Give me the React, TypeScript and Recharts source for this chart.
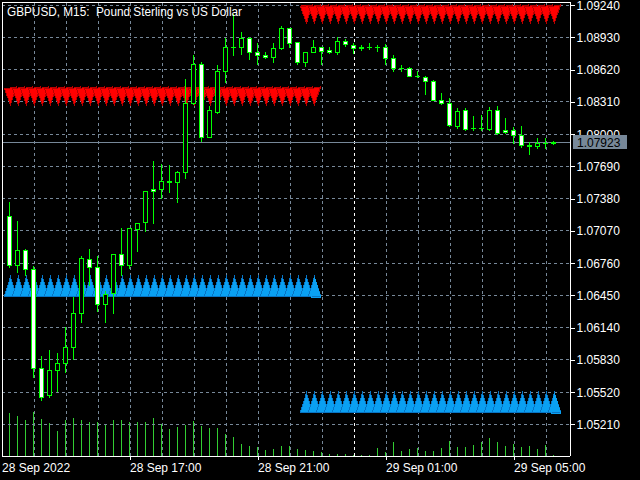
import React from "react";
import { ComposedChart, Bar, Scatter, XAxis, YAxis, ReferenceLine } from "recharts";

// GBPUSD M15, one bar every 15 minutes from 28 Sep 2022 13:15
const opens = [
  1.0721, 1.06739, 1.06883, 1.067, 1.05749, 1.05489, 1.0573, 1.05797, 1.05951, 1.06277,
  1.06796, 1.06719, 1.06364, 1.06472, 1.06844, 1.06739, 1.07085, 1.07152, 1.07469, 1.07469,
  1.07542, 1.07536, 1.07632, 1.08295, 1.08673, 1.07974, 1.08215, 1.08606, 1.08834, 1.08834,
  1.0892, 1.08786, 1.0876, 1.08737, 1.08824, 1.09016, 1.08882, 1.08695, 1.08786, 1.08834,
  1.08808, 1.08786, 1.08894, 1.08856, 1.08832, 1.08837, 1.08832, 1.08834, 1.08728, 1.08633,
  1.08632, 1.08558, 1.08551, 1.0851, 1.08327, 1.08301, 1.08077, 1.08231, 1.08056, 1.08054,
  1.08046, 1.08231, 1.08039, 1.08039, 1.07991, 1.07888, 1.07888, 1.07915, 1.07911,
];
const highs = [
  1.07347, 1.07164, 1.06895, 1.06732, 1.0587, 1.05925, 1.05896, 1.06149, 1.06431, 1.06828,
  1.06892, 1.06831, 1.06492, 1.06847, 1.07094, 1.07097, 1.07148, 1.07453, 1.07741, 1.07709,
  1.07702, 1.07648, 1.08529, 1.0876, 1.08695, 1.08269, 1.08663, 1.08926, 1.09154, 1.08978,
  1.08933, 1.08872, 1.08791, 1.08878, 1.09038, 1.09019, 1.08885, 1.08791, 1.08904, 1.08838,
  1.08834, 1.08935, 1.0891, 1.08878, 1.08856, 1.08878, 1.08856, 1.08862, 1.0876, 1.08663,
  1.08647, 1.08609, 1.08555, 1.08519, 1.08392, 1.08349, 1.08247, 1.08247, 1.08176, 1.08183,
  1.08257, 1.08269, 1.08151, 1.0807, 1.08077, 1.07922, 1.07959, 1.07965, 1.07931,
];
const lows = [
  1.06722, 1.06674, 1.06645, 1.05668, 1.05444, 1.0547, 1.05531, 1.05716, 1.05835, 1.06194,
  1.06549, 1.06302, 1.06194, 1.06283, 1.06645, 1.0671, 1.06879, 1.07068, 1.07142, 1.07382,
  1.07446, 1.0735, 1.07575, 1.08289, 1.07936, 1.07971, 1.08205, 1.08497, 1.0876, 1.08766,
  1.08721, 1.0867, 1.08728, 1.08695, 1.08814, 1.08834, 1.08673, 1.08657, 1.08786, 1.0867,
  1.08776, 1.08769, 1.08849, 1.08779, 1.08805, 1.08817, 1.08801, 1.08673, 1.08609, 1.08609,
  1.08555, 1.08553, 1.08382, 1.08324, 1.08289, 1.08077, 1.08061, 1.08036, 1.08039, 1.08039,
  1.08039, 1.07997, 1.08013, 1.07911, 1.07871, 1.07811, 1.07863, 1.07863, 1.07905,
];
const closes = [
  1.06739, 1.06883, 1.067, 1.05749, 1.05476, 1.0573, 1.05797, 1.05951, 1.06277, 1.06806,
  1.06719, 1.06364, 1.0646, 1.06844, 1.06739, 1.07094, 1.07142, 1.0745, 1.0745, 1.07546,
  1.07546, 1.07632, 1.08295, 1.08673, 1.07974, 1.08231, 1.08606, 1.08834, 1.08839, 1.0892,
  1.08786, 1.0876, 1.08737, 1.08824, 1.09016, 1.08872, 1.08695, 1.08786, 1.08834, 1.08801,
  1.08786, 1.08894, 1.08868, 1.08824, 1.0883, 1.08839, 1.08834, 1.08728, 1.08632, 1.08631,
  1.08558, 1.08556, 1.0851, 1.08327, 1.08295, 1.08087, 1.08221, 1.08046, 1.08054, 1.08056,
  1.08231, 1.08013, 1.08017, 1.07991, 1.07895, 1.0789, 1.07917, 1.07917, 1.07923,
];
const volumes = [
  1300, 1200, 1090, 1330, 1120, 990, 750, 1080, 1140, 1080,
  1030, 1020, 960, 1080, 1080, 1020, 1020, 1020, 1140, 960,
  810, 870, 930, 1050, 900, 840, 840, 660, 570, 360,
  300, 270, 190, 220, 300, 300, 210, 190, 150, 120,
  60, 60, 60, 30, 30, 30, 250, 120, 420, 160,
  220, 250, 160, 160, 250, 460, 280, 280, 340, 430,
  550, 420, 310, 370, 280, 310, 220, 340, 30,
];

const priceTicks = [
  1.0924, 1.0893, 1.0862, 1.0831, 1.08, 1.0769, 1.0738,
  1.0707, 1.0676, 1.0645, 1.0614, 1.0583, 1.0552, 1.0521,
];
const bidPrice = 1.07923;
const timeTicks = [-1, 15, 31, 47, 63];
const timeLabels = ["28 Sep 2022", "28 Sep 17:00", "28 Sep 21:00", "29 Sep 01:00", "29 Sep 05:00"];
const gridBars = [3, 7, 11, 15, 19, 23, 27, 31, 35, 39, 47, 51, 55, 59, 63, 67];
const daySeparator = 43;

// arrow signals: one arrow per bar over each run
const sellLevels = [1.08452, 1.0924];
const sellRanges = [[0, 38], [37, 68]];
const buyLevels = [1.06444, 1.05329];
const buyRanges = [[0, 38], [37, 68]];

const priceDomain = [1.04906, 1.09269];
const volumeDomain = [0, 13620];

const GREEN = "#00ff00";
const VOL_GREEN = "#32cd32";
const GRID = "#778899";
const FONT = "'Liberation Sans', Arial, sans-serif";

const candles = opens.map((o, i) => ({
  i,
  o,
  h: highs[i],
  l: lows[i],
  c: closes[i],
  v: volumes[i],
}));

const expandRuns = (levels: number[], ranges: number[][]) =>
  levels.flatMap((p, run) => {
    const [a, b] = ranges[run];
    const out: any[] = [];
    for (let i = a; i <= b; i++) out.push({ i, p, run, first: i === a, last: i === b });
    return out;
  });

const sellArrows = expandRuns(sellLevels, sellRanges);
const buyArrows = expandRuns(buyLevels, buyRanges);

// candles drawn with filled pixel rects so 1px wicks stay pure green
const Candle = (props: any) => {
  const { x, y, width, height, payload } = props;
  if (!payload) return null;
  const { o, h, l, c } = payload;
  const col = Math.floor(x + width / 2 + 0.01);
  const span = h - l;
  const yOf = (p: number) => Math.round(span > 0 ? y + ((h - p) / span) * height : y);
  const yh = yOf(h);
  const yl = yOf(l);
  const top = Math.min(yOf(o), yOf(c));
  const bot = Math.max(yOf(o), yOf(c));
  const doji = bot - top < 1;
  return (
    <g>
      <rect x={col} y={yh} width={1} height={Math.max(1, yl - yh + 1)} fill={GREEN} />
      {doji ? (
        <rect x={col - 2} y={top} width={5} height={1} fill={GREEN} />
      ) : (
        <g>
          <rect x={col - 2} y={top} width={5} height={bot - top + 1} fill={GREEN} />
          {bot - top > 1 && (
            <rect x={col - 1} y={top + 1} width={3} height={bot - top - 1} fill={c < o ? "#ffffff" : "#000000"} />
          )}
        </g>
      )}
    </g>
  );
};

const VolumeLine = (props: any) => {
  const { x, y, width, height } = props;
  const col = Math.floor(x + width / 2 + 0.01);
  const top = Math.round(y);
  const bot = Math.round(y + height);
  return <rect x={col} y={top} width={1} height={Math.max(0, bot - top)} fill={VOL_GREEN} />;
};

const SellArrow = (props: any) => {
  const { cx, cy, payload } = props;
  const x = Math.floor(cx + 0.01) + 0.5;
  const y = Math.round(cy);
  return (
    <g>
      {payload.first && payload.run > 0 && (
        <polygon points={`${x - 5},${y} ${x + 4},${y} ${x},${y + 19}`} fill="none" stroke="#e00000" />
      )}
      <polygon points={`${x - 6},${y + 2} ${x + 6},${y} ${x},${y + 18}`} fill="#ff0000" stroke="#b80000" />
    </g>
  );
};

const BuyArrow = (props: any) => {
  const { cx, cy, payload } = props;
  const x = Math.floor(cx + 0.01) + 0.5;
  const y = Math.round(cy);
  return (
    <g>
      <polygon points={`${x - 6},${y} ${x + 6},${y} ${x},${y - 19}`} fill="#0aa0f2" stroke="#0874c4" />
      {payload.last && (
        <polygon points={`${x - 3},${y + 1} ${x + 6},${y + 1} ${x},${y - 19}`} fill="none" stroke="#0aa0f2" />
      )}
    </g>
  );
};

const PriceTick = (props: any) => {
  const { x, y, payload } = props;
  const v = payload.value;
  if (v === bidPrice) {
    return (
      <g>
        <rect x={x + 3} y={Math.round(y) - 7} width={54} height={14} fill={GRID} />
        <text x={x + 7} y={y + 4.5} fill="#000" fontSize={12} fontFamily={FONT}>
          {v.toFixed(5)}
        </text>
      </g>
    );
  }
  return (
    <g>
      <rect x={x} y={Math.round(y)} width={5} height={1} fill="#fff" />
      <text x={x + 6.5} y={y + 4.5} fill="#fff" fontSize={12} fontFamily={FONT}>
        {v.toFixed(5)}
      </text>
    </g>
  );
};

const TimeTick = (props: any) => {
  const { x, y, payload } = props;
  const k = timeTicks.indexOf(payload.value);
  return (
    <g>
      {k > 0 && <rect x={Math.floor(x + 0.01)} y={y} width={1} height={4} fill="#fff" />}
      <text x={x} y={y + 15.5} fill="#fff" fontSize={12} fontFamily={FONT} textAnchor="start">
        {timeLabels[k]}
      </text>
    </g>
  );
};

export default function App() {
  return (
    <div
      className="mt"
      style={{ position: "fixed", left: 0, top: 0, width: 640, height: 480, background: "#000", overflow: "hidden" }}
    >
      <style>{`.mt svg line, .mt svg rect, .mt svg polygon, .mt svg path { shape-rendering: crispEdges; }`}</style>
      <div style={{ position: "absolute", left: 0, top: 0 }}>
        <ComposedChart width={640} height={480} data={candles} margin={{ top: 2, right: 70, bottom: 24, left: 2 }}>
          <XAxis type="number" dataKey="i" domain={[-1, 70]} allowDataOverflow hide />
          <YAxis type="number" domain={priceDomain} allowDataOverflow hide />
          <YAxis yAxisId="v" type="number" domain={volumeDomain} allowDataOverflow hide />
          {priceTicks.map((p) => (
            <ReferenceLine key={"h" + p} y={p} stroke={GRID} strokeDasharray="3 3" />
          ))}
          {gridBars.map((b) => (
            <ReferenceLine key={"v" + b} x={b} stroke={GRID} strokeDasharray="3 3" />
          ))}
          <ReferenceLine x={daySeparator} stroke="#ffffff" strokeDasharray="3 3" />
          <ReferenceLine y={bidPrice} stroke={GRID} />
          <Bar yAxisId="v" dataKey="v" barSize={1} shape={<VolumeLine />} isAnimationActive={false} />
        </ComposedChart>
      </div>
      <div style={{ position: "absolute", left: 0, top: 0 }}>
        <ComposedChart width={640} height={480} data={candles} margin={{ top: 2, right: 0, bottom: 0, left: 2 }}>
          <XAxis
            type="number"
            dataKey="i"
            domain={[-1, 70]}
            allowDataOverflow
            ticks={timeTicks}
            interval={0}
            height={24}
            tickSize={0}
            tickMargin={0}
            tickLine={false}
            axisLine={{ stroke: "#ffffff" }}
            tick={<TimeTick />}
          />
          <YAxis
            type="number"
            orientation="right"
            width={70}
            domain={priceDomain}
            allowDataOverflow
            ticks={[...priceTicks, bidPrice]}
            interval={0}
            tickSize={0}
            tickMargin={0}
            tickLine={false}
            axisLine={{ stroke: "#ffffff" }}
            tick={<PriceTick />}
          />
          <ReferenceLine x={-1} stroke="#ffffff" />
          <ReferenceLine y={priceDomain[1]} stroke="#ffffff" />
          <Scatter data={sellArrows} dataKey="p" shape={<SellArrow />} isAnimationActive={false} zIndex={100} />
          <Scatter data={buyArrows} dataKey="p" shape={<BuyArrow />} isAnimationActive={false} zIndex={100} />
          <Bar
            dataKey={(d: any) => [d.l, d.h]}
            barSize={7}
            shape={<Candle />}
            isAnimationActive={false}
            zIndex={500}
          />
        </ComposedChart>
      </div>
      <svg width={640} height={24} style={{ position: "absolute", left: 0, top: 0 }}>
        <text
          x={7}
          y={16}
          fill="#fff"
          fontSize={12}
          fontFamily={FONT}
          textLength={235}
          lengthAdjust="spacingAndGlyphs"
          xmlSpace="preserve"
        >
          {"GBPUSD, M15:  Pound Sterling vs US Dollar"}
        </text>
      </svg>
    </div>
  );
}
